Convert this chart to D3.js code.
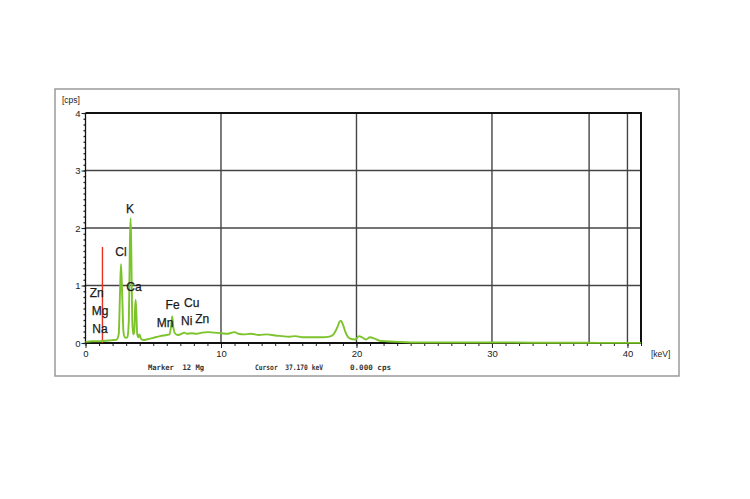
<!DOCTYPE html>
<html><head><meta charset="utf-8">
<script src="https://cdn.jsdelivr.net/npm/d3@7"></script>
<style>body{margin:0;background:#fff}svg{display:block}</style>
</head><body>
<script>
// ---- data ----
const energy = [0,0.5,1.0,1.5,2.0,2.3,2.45,2.55,2.62,2.7,2.8,2.9,3.0,3.1,3.2,3.28,3.33,3.38,3.45,3.52,3.6,3.66,3.7,3.75,3.82,3.9,3.97,4.03,4.1,4.25,4.5,5.0,5.5,6.0,6.2,6.32,6.4,6.47,6.6,6.8,7.0,7.3,7.5,7.8,8.2,8.6,9.0,9.5,10.0,10.5,11.0,11.3,11.7,12.2,12.8,13.4,14.0,14.5,15.0,15.5,16.0,16.5,17.0,17.5,18.0,18.3,18.6,18.75,18.85,19.0,19.2,19.5,19.9,20.2,20.4,20.7,21.0,21.3,21.7,22.2,23.0,24,26,28,30,33,36,38,41];
const counts = [0.02,0.03,0.03,0.04,0.05,0.06,0.15,0.9,1.37,0.9,0.2,0.1,0.09,0.11,0.4,1.8,2.17,1.6,0.4,0.15,0.2,0.6,0.75,0.55,0.15,0.1,0.15,0.12,0.07,0.05,0.06,0.09,0.12,0.14,0.15,0.3,0.46,0.3,0.17,0.14,0.15,0.18,0.16,0.17,0.16,0.18,0.19,0.18,0.17,0.16,0.19,0.16,0.15,0.16,0.14,0.15,0.13,0.12,0.11,0.12,0.1,0.1,0.1,0.1,0.11,0.15,0.28,0.37,0.39,0.32,0.18,0.08,0.06,0.12,0.1,0.06,0.1,0.08,0.04,0.03,0.02,0.01,0.01,0.01,0.01,0.005,0.005,0.003,0.003];
const elementNames = ["K","Cl","Ca","Zn","Mg","Na","Fe","Mn","Cu","Ni","Zn"];
const elementKeV   = [3.28,2.62,3.58,0.83,1.07,1.07,6.43,5.87,7.84,7.47,8.62];
const elementCps   = [2.26,1.51,0.90,0.80,0.49,0.17,0.59,0.28,0.62,0.31,0.34];
const xTicks = [0,10,20,30,40];
const yTicks = [0,1,2,3,4];
const markerKeV = 1.25, markerCps = 1.67;
const cursorKeV = 37.17;
const markerText = "Marker  12 Mg";
const cursorText = "Cursor  37.170 keV";
const cpsText = "0.000 cps";

// ---- drawing ----
const W = 750, H = 499;
const svg = d3.select("body").append("svg").attr("width", W).attr("height", H);
const x = d3.scaleLinear().domain([0, 41]).range([85.5, 641]);
const y = d3.scaleLinear().domain([0, 4]).range([343, 113]);
const sans = "Liberation Sans, Arial, sans-serif";

// outer frame
svg.append("rect").attr("x", 55).attr("y", 89).attr("width", 624).attr("height", 287)
  .attr("fill", "none").attr("stroke", "#9a9a9a").attr("stroke-width", 1.5);

// grid
const g = svg.append("g");
[1,2,3].forEach(v => g.append("line").attr("x1", x(0)).attr("x2", x(41)).attr("y1", y(v)).attr("y2", y(v))
  .attr("stroke", "#444").attr("stroke-width", 1.4));
[10,20,30,40, cursorKeV].forEach(v => g.append("line").attr("x1", x(v)).attr("x2", x(v)).attr("y1", y(0)).attr("y2", y(4))
  .attr("stroke", "#444").attr("stroke-width", 1.4));

// axes
const xMinor = d3.range(0, 42, 1);
svg.append("g").attr("transform", `translate(0,${y(0)})`)
  .call(d3.axisBottom(x).tickValues(xMinor).tickSize(3).tickFormat(""))
  .call(a => a.select(".domain").remove())
  .call(a => a.selectAll("line").attr("stroke", "#222"));
svg.append("g").attr("transform", `translate(0,${y(0)})`)
  .call(d3.axisBottom(x).tickValues(xTicks).tickSize(5).tickPadding(2).tickFormat(d3.format("d")))
  .call(a => a.select(".domain").remove())
  .call(a => a.selectAll("line").attr("stroke", "#222"))
  .call(a => a.selectAll("text").attr("font-family", sans).attr("font-size", 9.5).attr("fill", "#222"));

const yMinor = d3.range(0, 4.001, 0.1);
svg.append("g").attr("transform", `translate(${x(0)},0)`)
  .call(d3.axisLeft(y).tickValues(yMinor).tickSize(2).tickFormat(""))
  .call(a => a.select(".domain").remove())
  .call(a => a.selectAll("line").attr("stroke", "#222").attr("stroke-width", 1.3));
svg.append("g").attr("transform", `translate(${x(0)},0)`)
  .call(d3.axisLeft(y).tickValues(yTicks).tickSize(4).tickPadding(1).tickFormat(d3.format("d")))
  .call(a => a.select(".domain").remove())
  .call(a => a.selectAll("line").attr("stroke", "#222"))
  .call(a => a.selectAll("text").attr("font-family", sans).attr("font-size", 9.5).attr("fill", "#222"));

// plot border
svg.append("line").attr("x1", x(0)).attr("x2", x(0)).attr("y1", y(0)).attr("y2", y(4)).attr("stroke", "#111").attr("stroke-width", 1.3);
svg.append("path").attr("d", `M${x(0)},${y(4)}H${x(41)}V${y(0)}H${x(0)}`)
  .attr("fill", "none").attr("stroke", "#111").attr("stroke-width", 2);

// marker line
svg.append("line").attr("x1", x(markerKeV)).attr("x2", x(markerKeV)).attr("y1", y(0)).attr("y2", y(markerCps))
  .attr("stroke", "#e8321e").attr("stroke-width", 1.4);

// spectrum
const pts = energy.map((e, i) => [e, counts[i]]);
svg.append("path").datum(pts)
  .attr("d", d3.line().x(d => x(d[0])).y(d => y(d[1])).curve(d3.curveMonotoneX))
  .attr("fill", "none").attr("stroke", "#7cc32c").attr("stroke-width", 1.9).attr("stroke-linejoin", "round");

// element labels
svg.append("g").selectAll("text").data(elementNames).join("text")
  .attr("x", (d, i) => x(elementKeV[i])).attr("y", (d, i) => y(elementCps[i]))
  .attr("text-anchor", "middle")
  .attr("font-family", sans).attr("font-size", 12).attr("fill", "#1a1a1a")
  .attr("stroke", "#1a1a1a").attr("stroke-width", 0.25)
  .text(d => d);

// unit labels
svg.append("text").attr("x", 62).attr("y", 103).attr("font-family", sans)
  .attr("font-size", 8.5).attr("fill", "#222").text("[cps]");
svg.append("text").attr("x", 651).attr("y", 357).attr("font-family", sans)
  .attr("font-size", 8.5).attr("fill", "#222").text("[keV]");

// status texts
const st = (tx, x0, len) => svg.append("text").attr("x", x0).attr("y", 370)
  .attr("font-family", "DejaVu Sans Mono, monospace").attr("font-size", 7.5).attr("font-weight", "bold")
  .attr("fill", "#333").attr("textLength", len).attr("lengthAdjust", "spacingAndGlyphs")
  .attr("xml:space", "preserve").style("white-space", "pre").text(tx);
st(markerText, 148, 56);
st(cursorText, 255, 68);
st(cpsText, 350, 41);
</script>
</body></html>
